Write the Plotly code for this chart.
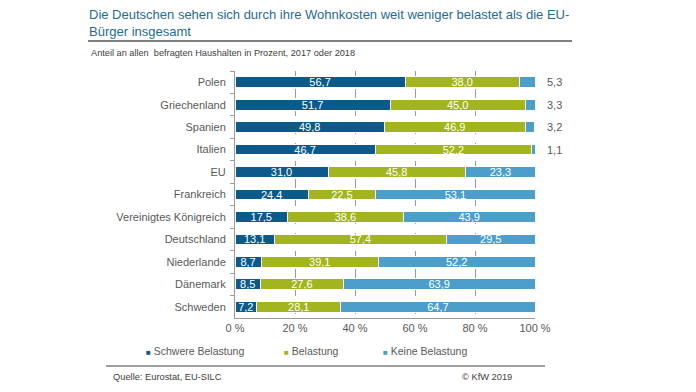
import plotly.graph_objects as go

countries = ["Polen", "Griechenland", "Spanien", "Italien", "EU", "Frankreich",
             "Vereinigtes Königreich", "Deutschland", "Niederlande", "Dänemark", "Schweden"]
schwere = [56.7, 51.7, 49.8, 46.7, 31.0, 24.4, 17.5, 13.1, 8.7, 8.5, 7.2]
belastung = [38.0, 45.0, 46.9, 52.2, 45.8, 22.5, 38.6, 57.4, 39.1, 27.6, 28.1]
keine = [5.3, 3.3, 3.2, 1.1, 23.3, 53.1, 43.9, 29.5, 52.2, 63.9, 64.7]
series_names = ["Schwere Belastung", "Belastung", "Keine Belastung"]
colors = ["#0b5a8a", "#a2b41e", "#4b9fca"]
x_ticks = [0, 20, 40, 60, 80, 100]
x_ticktext = [f"{t} %" for t in x_ticks]

FONT = "Liberation Sans, Arial, sans-serif"
OFF = 8  # page body margin
L, R_EDGE, T, B_EDGE = 235 - OFF, 535 - OFF, 71 - OFF, 318 - OFF
PW, PH = R_EDGE - L, B_EDGE - T


def px(x):
    return (x - OFF - L) / PW


def py(y):
    return (B_EDGE - (y - OFF)) / PH


fig = go.Figure()
for name, vals, col in zip(series_names, [schwere, belastung, keine], colors):
    texts = [f"{v:.1f}".replace(".", ",") if (v >= 10 or name != "Keine Belastung") else "" for v in vals]
    fig.add_trace(go.Bar(
        y=countries, x=vals, orientation="h", name=name,
        marker=dict(color=col, line=dict(color="white", width=1)),
        text=texts, textposition="inside", insidetextanchor="middle",
        textfont=dict(color="white", size=11, family=FONT),
        constraintext="none", showlegend=False, hoverinfo="skip",
    ))

# small values of "Keine Belastung" written to the right of the bars
for c, v in zip(countries, keine):
    if v < 10:
        fig.add_annotation(x=100, y=c, xref="x", yref="y", text=f"{v:.1f}".replace(".", ","),
                           showarrow=False, xanchor="left", xshift=10,
                           font=dict(size=11, color="#595959", family=FONT))

fig.update_layout(
    barmode="stack", bargap=0.52,
    width=696, height=392,
    margin=dict(l=L, r=696 - R_EDGE, t=T, b=392 - B_EDGE, autoexpand=False),
    paper_bgcolor="white", plot_bgcolor="white",
    font=dict(family=FONT, color="#595959", size=11),
    showlegend=False,
    xaxis=dict(range=[0, 100], tickmode="array", tickvals=x_ticks, ticktext=x_ticktext,
               showgrid=True, gridcolor="#9a9a9a", griddash="dash", gridwidth=1,
               showline=True, linecolor="#9a9a9a", linewidth=1,
               ticks="", zeroline=False, fixedrange=True,
               tickfont=dict(size=11, color="#595959")),
    yaxis=dict(autorange="reversed", showline=True, linecolor="#9a9a9a", linewidth=1,
               ticks="outside", tickson="boundaries", ticklen=4, tickcolor="#9a9a9a",
               ticklabelstandoff=6,
               tickfont=dict(size=11, color="#595959"), fixedrange=True),
)

# title, subtitle, rules and footer
fig.add_annotation(xref="paper", yref="paper", x=px(87), y=py(5), xanchor="left", yanchor="top",
                   text="Die Deutschen sehen sich durch ihre Wohnkosten weit weniger belastet als die EU-<br>Bürger insgesamt",
                   showarrow=False, align="left",
                   font=dict(size=13, color="#1f6b94", family=FONT))
fig.add_annotation(xref="paper", yref="paper", x=px(89), y=py(53), xanchor="left", yanchor="middle",
                   text="Anteil an allen  befragten Haushalten in Prozent, 2017 oder 2018",
                   showarrow=False, font=dict(size=9.2, color="#404040", family=FONT))
fig.add_shape(type="line", xref="paper", yref="paper", x0=px(88), x1=px(572),
              y0=py(41), y1=py(41), line=dict(color="#808080", width=2))
# bottom rule
fig.add_shape(type="line", xref="paper", yref="paper", x0=px(106), x1=px(545),
              y0=py(366), y1=py(366), line=dict(color="#808080", width=1.5))
fig.add_annotation(xref="paper", yref="paper", x=px(111), y=py(377),
                   xanchor="left", yanchor="middle", text="Quelle: Eurostat, EU-SILC", showarrow=False,
                   font=dict(size=9.3, color="#404040", family=FONT))
fig.add_annotation(xref="paper", yref="paper", x=px(514), y=py(377),
                   xanchor="right", yanchor="middle", text="© KfW 2019", showarrow=False,
                   font=dict(size=9.3, color="#404040", family=FONT))

# legend (small square markers)
legend_x = [144, 282, 381]
for name, col, lx in zip(series_names, colors, legend_x):
    fig.add_annotation(xref="paper", yref="paper", x=px(lx), y=py(351),
                       xanchor="left", yanchor="middle", showarrow=False,
                       text=f"<span style='color:{col};font-size:8px'>■</span> {name}",
                       font=dict(size=10.5, color="#595959", family=FONT))

fig.write_html("out.html")
